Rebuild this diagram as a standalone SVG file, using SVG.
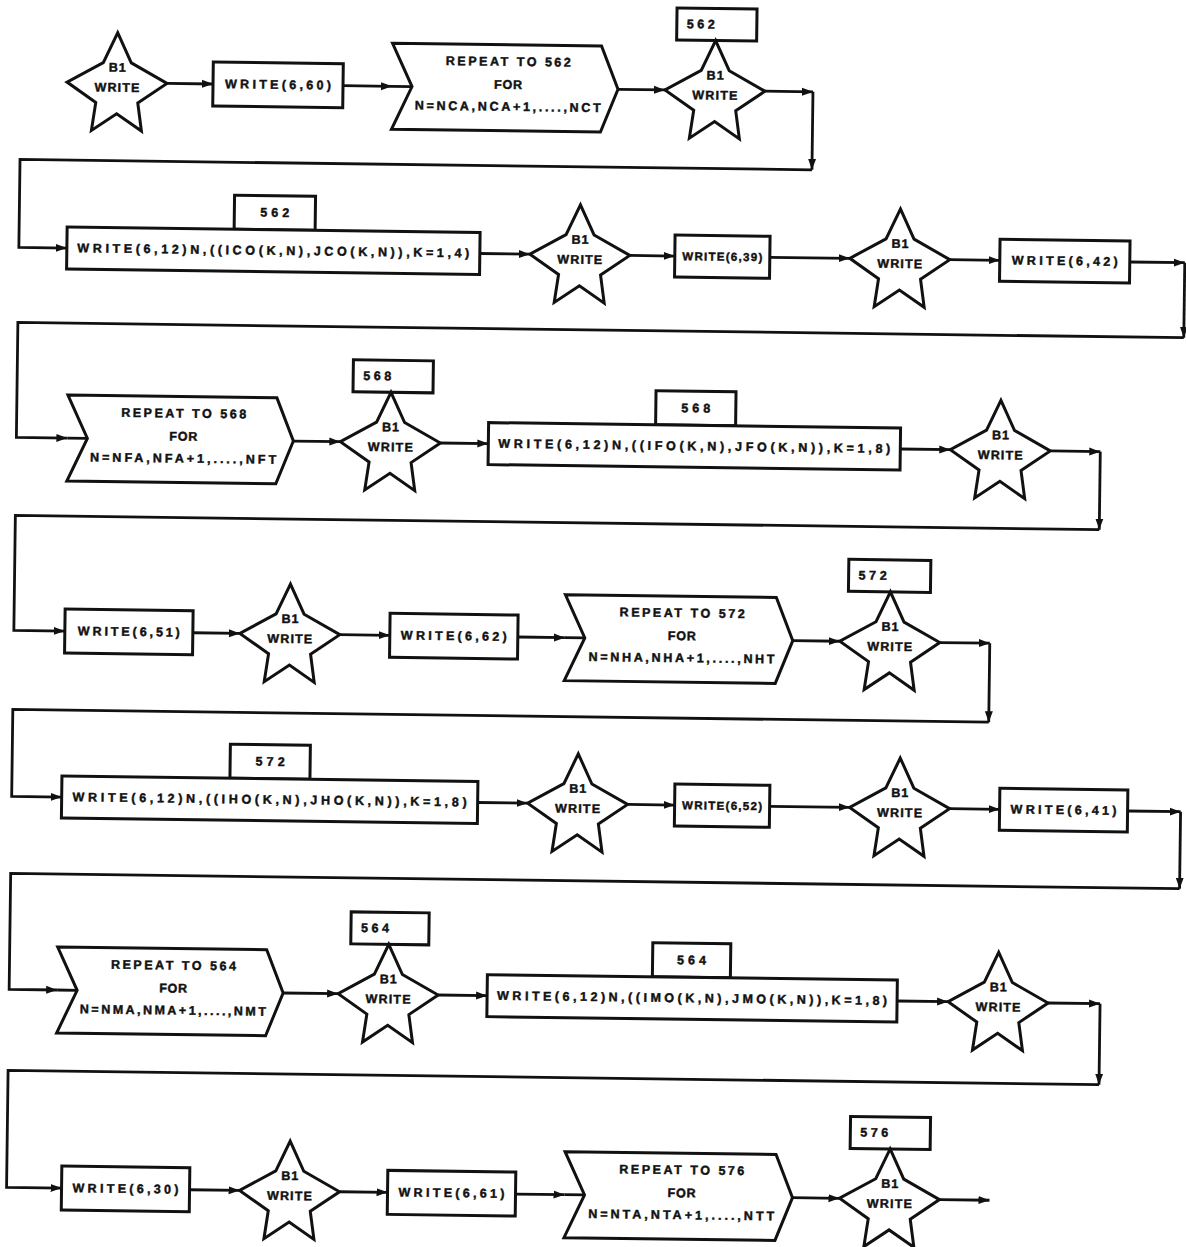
<svg xmlns="http://www.w3.org/2000/svg" width="1186" height="1247" viewBox="0 0 1186 1247">
  <defs>
    <style>
      .shape { fill: #fff; stroke: #111; stroke-width: 3; stroke-linejoin: miter; }
      .line { fill: none; stroke: #111; stroke-width: 2.8; }
      .arrow { marker-end: url(#head); }
      text { font-family: "Liberation Sans", Arial, sans-serif; font-weight: bold; font-size: 12.5px; fill: #111; stroke: #111; stroke-width: 0.45; }
      .c { text-anchor: middle; }
      .narrow { font-size: 11.5px; }
    </style>
    <marker id="head" markerUnits="userSpaceOnUse" markerWidth="12" markerHeight="10" refX="11" refY="5" orient="auto">
      <path d="M0,1 L11,5 L0,9 Z" fill="#111"/>
    </marker>
    <!-- five-pointed call symbol, centred on its horizontal tips -->
    <polygon id="star" points="0,-50 14,-20 50,0 21,20 25,48 0,31 -25,48 -21,20 -50,0 -14,-20"/>
  </defs>

  <rect x="0" y="0" width="1186" height="1247" fill="#fff"/>

  <g transform="rotate(0.75 593 623)">

    <!-- ============ connectors ============ -->
    <g id="connectors">
      <!-- row 1 -->
      <path class="line arrow" d="M160,89 L206,89"/>
      <path class="line arrow" d="M336,89 L385,89"/>
      <path class="line" d="M385,89 L405,89"/>
      <path class="line arrow" d="M611,89 L658,89"/>
      <path class="line arrow" d="M758,89 L806,89"/>
      <path class="line arrow" d="M806,89 L806,167"/>
      <path class="line arrow" d="M806,167 L14,167 L14,255 L62,255"/>
      <!-- row 2 -->
      <path class="line arrow" d="M475,255 L525,255"/>
      <path class="line arrow" d="M625,255 L670,255"/>
      <path class="line arrow" d="M765,255 L845,255"/>
      <path class="line arrow" d="M945,255 L995,255"/>
      <path class="line arrow" d="M1125,255 L1180,255"/>
      <path class="line arrow" d="M1180,255 L1180,330"/>
      <path class="line arrow" d="M1180,330 L14,330 L14,445 L65,445"/>
      <path class="line" d="M65,445 L85,445"/>
      <!-- row 3 -->
      <path class="line arrow" d="M291,445 L338,445"/>
      <path class="line arrow" d="M438,445 L486,445"/>
      <path class="line arrow" d="M898,445 L948,445"/>
      <path class="line arrow" d="M1048,445 L1098,445"/>
      <path class="line arrow" d="M1098,445 L1098,523"/>
      <path class="line arrow" d="M1098,523 L14,523 L14,638 L65,638"/>
      <!-- row 4 -->
      <path class="line arrow" d="M193,638 L240,638"/>
      <path class="line arrow" d="M340,638 L390,638"/>
      <path class="line arrow" d="M518,638 L565,638"/>
      <path class="line" d="M565,638 L585,638"/>
      <path class="line arrow" d="M793,638 L840,638"/>
      <path class="line arrow" d="M940,638 L990,638"/>
      <path class="line arrow" d="M990,638 L990,717"/>
      <path class="line arrow" d="M990,717 L14,717 L14,804 L64,804"/>
      <!-- row 5 -->
      <path class="line arrow" d="M480,804 L530,804"/>
      <path class="line arrow" d="M630,804 L677,804"/>
      <path class="line arrow" d="M772,804 L852,804"/>
      <path class="line arrow" d="M952,804 L1002,804"/>
      <path class="line arrow" d="M1130,804 L1183,804"/>
      <path class="line arrow" d="M1183,804 L1183,881"/>
      <path class="line arrow" d="M1183,881 L14,881 L14,997 L62,997"/>
      <path class="line" d="M62,997 L82,997"/>
      <!-- row 6 -->
      <path class="line arrow" d="M288,997 L343,997"/>
      <path class="line arrow" d="M443,997 L492,997"/>
      <path class="line arrow" d="M902,997 L953,997"/>
      <path class="line arrow" d="M1053,997 L1105,997"/>
      <path class="line arrow" d="M1105,997 L1105,1078"/>
      <path class="line arrow" d="M1105,1078 L14,1078 L14,1195 L69,1195"/>
      <!-- row 7 -->
      <path class="line arrow" d="M197,1195 L247,1195"/>
      <path class="line arrow" d="M347,1195 L395,1195"/>
      <path class="line arrow" d="M523,1195 L572,1195"/>
      <path class="line" d="M572,1195 L592,1195"/>
      <path class="line arrow" d="M800,1195 L847,1195"/>
      <path class="line arrow" d="M947,1195 L997,1195"/>
    </g>

    <!-- ============ row 1 ============ -->
    <g id="n1-call">
      <use href="#star" class="shape" x="110" y="89"/>
      <text class="c" x="110" y="78" textLength="17">B1</text>
      <text class="c" x="110" y="98" textLength="45">WRITE</text>
    </g>
    <g id="n1-write60">
      <rect class="shape" x="206" y="67" width="130" height="44"/>
      <text class="c" x="271" y="93" textLength="106">WRITE(6,60)</text>
    </g>
    <g id="n1-repeat562">
      <polygon class="shape" points="385,46 594,46 611,89 594,132 385,132 405,89"/>
      <text class="c" x="501" y="67" textLength="125">REPEAT TO 562</text>
      <text class="c" x="501" y="90" textLength="28">FOR</text>
      <text class="c" x="501" y="112" textLength="186">N=NCA,NCA+1,....,NCT</text>
    </g>
    <g id="n1-call562">
      <rect class="shape" x="669" y="7" width="80" height="32"/>
      <text x="679" y="27" textLength="28">562</text>
      <use href="#star" class="shape" x="708" y="89"/>
      <text class="c" x="708" y="78" textLength="17">B1</text>
      <text class="c" x="708" y="98" textLength="45">WRITE</text>
    </g>

    <!-- ============ row 2 ============ -->
    <g id="n2-write12-co">
      <rect class="shape" x="229" y="200" width="81" height="34"/>
      <text class="c" x="269.5" y="221" textLength="29">562</text>
      <rect class="shape" x="62" y="234" width="413" height="42"/>
      <text class="c" x="268.5" y="259" textLength="392">WRITE(6,12)N,((ICO(K,N),JCO(K,N)),K=1,4)</text>
    </g>
    <g id="n2-call-a">
      <use href="#star" class="shape" x="575" y="255"/>
      <text class="c" x="575" y="244" textLength="17">B1</text>
      <text class="c" x="575" y="264" textLength="45">WRITE</text>
    </g>
    <g id="n2-write39">
      <rect class="shape" x="670" y="234" width="95" height="42"/>
      <text class="c narrow" x="717.5" y="259" textLength="80">WRITE(6,39)</text>
    </g>
    <g id="n2-call-b">
      <use href="#star" class="shape" x="895" y="255"/>
      <text class="c" x="895" y="244" textLength="17">B1</text>
      <text class="c" x="895" y="264" textLength="45">WRITE</text>
    </g>
    <g id="n2-write42">
      <rect class="shape" x="995" y="234" width="130" height="42"/>
      <text class="c" x="1060" y="259" textLength="106">WRITE(6,42)</text>
    </g>

    <!-- ============ row 3 ============ -->
    <g id="n3-repeat568">
      <polygon class="shape" points="65,402 274,402 291,445 274,488 65,488 85,445"/>
      <text class="c" x="181" y="423" textLength="125">REPEAT TO 568</text>
      <text class="c" x="181" y="446" textLength="28">FOR</text>
      <text class="c" x="181" y="468" textLength="186">N=NFA,NFA+1,....,NFT</text>
    </g>
    <g id="n3-call568">
      <rect class="shape" x="350" y="363" width="80" height="32"/>
      <text x="360" y="383" textLength="28">568</text>
      <use href="#star" class="shape" x="388" y="445"/>
      <text class="c" x="388" y="434" textLength="17">B1</text>
      <text class="c" x="388" y="454" textLength="45">WRITE</text>
    </g>
    <g id="n3-write12-fo">
      <rect class="shape" x="653" y="390" width="80" height="34"/>
      <text class="c" x="693" y="411" textLength="29">568</text>
      <rect class="shape" x="486" y="424" width="412" height="42"/>
      <text class="c" x="692" y="449" textLength="392">WRITE(6,12)N,((IFO(K,N),JFO(K,N)),K=1,8)</text>
    </g>
    <g id="n3-call">
      <use href="#star" class="shape" x="998" y="445"/>
      <text class="c" x="998" y="434" textLength="17">B1</text>
      <text class="c" x="998" y="454" textLength="45">WRITE</text>
    </g>

    <!-- ============ row 4 ============ -->
    <g id="n4-write51">
      <rect class="shape" x="65" y="616" width="128" height="44"/>
      <text class="c" x="129" y="642" textLength="102">WRITE(6,51)</text>
    </g>
    <g id="n4-call">
      <use href="#star" class="shape" x="290" y="638"/>
      <text class="c" x="290" y="627" textLength="17">B1</text>
      <text class="c" x="290" y="647" textLength="45">WRITE</text>
    </g>
    <g id="n4-write62">
      <rect class="shape" x="390" y="616" width="128" height="44"/>
      <text class="c" x="454" y="642" textLength="106">WRITE(6,62)</text>
    </g>
    <g id="n4-repeat572">
      <polygon class="shape" points="565,595 776,595 793,638 776,681 565,681 585,638"/>
      <text class="c" x="682" y="616" textLength="125">REPEAT TO 572</text>
      <text class="c" x="682" y="639" textLength="28">FOR</text>
      <text class="c" x="682" y="661" textLength="186">N=NHA,NHA+1,....,NHT</text>
    </g>
    <g id="n4-call572">
      <rect class="shape" x="848" y="556" width="82" height="32"/>
      <text x="858" y="576" textLength="28">572</text>
      <use href="#star" class="shape" x="890" y="638"/>
      <text class="c" x="890" y="627" textLength="17">B1</text>
      <text class="c" x="890" y="647" textLength="45">WRITE</text>
    </g>

    <!-- ============ row 5 ============ -->
    <g id="n5-write12-ho">
      <rect class="shape" x="232" y="749" width="80" height="34"/>
      <text class="c" x="272" y="770" textLength="29">572</text>
      <rect class="shape" x="64" y="783" width="416" height="42"/>
      <text class="c" x="272" y="808" textLength="394">WRITE(6,12)N,((IHO(K,N),JHO(K,N)),K=1,8)</text>
    </g>
    <g id="n5-call-a">
      <use href="#star" class="shape" x="580" y="804"/>
      <text class="c" x="580" y="793" textLength="17">B1</text>
      <text class="c" x="580" y="813" textLength="45">WRITE</text>
    </g>
    <g id="n5-write52">
      <rect class="shape" x="677" y="783" width="95" height="42"/>
      <text class="c narrow" x="724.5" y="808" textLength="80">WRITE(6,52)</text>
    </g>
    <g id="n5-call-b">
      <use href="#star" class="shape" x="902" y="804"/>
      <text class="c" x="902" y="793" textLength="17">B1</text>
      <text class="c" x="902" y="813" textLength="45">WRITE</text>
    </g>
    <g id="n5-write41">
      <rect class="shape" x="1002" y="783" width="128" height="42"/>
      <text class="c" x="1066" y="808" textLength="106">WRITE(6,41)</text>
    </g>

    <!-- ============ row 6 ============ -->
    <g id="n6-repeat564">
      <polygon class="shape" points="62,954 271,954 288,997 271,1040 62,1040 82,997"/>
      <text class="c" x="178" y="975" textLength="125">REPEAT TO 564</text>
      <text class="c" x="178" y="998" textLength="28">FOR</text>
      <text class="c" x="178" y="1020" textLength="186">N=NMA,NMA+1,....,NMT</text>
    </g>
    <g id="n6-call564">
      <rect class="shape" x="355" y="915" width="78" height="32"/>
      <text x="365" y="935" textLength="28">564</text>
      <use href="#star" class="shape" x="393" y="997"/>
      <text class="c" x="393" y="986" textLength="17">B1</text>
      <text class="c" x="393" y="1006" textLength="45">WRITE</text>
    </g>
    <g id="n6-write12-mo">
      <rect class="shape" x="657" y="942" width="78" height="34"/>
      <text class="c" x="696" y="963" textLength="29">564</text>
      <rect class="shape" x="492" y="976" width="410" height="42"/>
      <text class="c" x="697" y="1001" textLength="390">WRITE(6,12)N,((IMO(K,N),JMO(K,N)),K=1,8)</text>
    </g>
    <g id="n6-call">
      <use href="#star" class="shape" x="1003" y="997"/>
      <text class="c" x="1003" y="986" textLength="17">B1</text>
      <text class="c" x="1003" y="1006" textLength="45">WRITE</text>
    </g>

    <!-- ============ row 7 ============ -->
    <g id="n7-write30">
      <rect class="shape" x="69" y="1173" width="128" height="44"/>
      <text class="c" x="133" y="1199" textLength="106">WRITE(6,30)</text>
    </g>
    <g id="n7-call">
      <use href="#star" class="shape" x="297" y="1195"/>
      <text class="c" x="297" y="1184" textLength="17">B1</text>
      <text class="c" x="297" y="1204" textLength="45">WRITE</text>
    </g>
    <g id="n7-write61">
      <rect class="shape" x="395" y="1173" width="128" height="44"/>
      <text class="c" x="459" y="1199" textLength="106">WRITE(6,61)</text>
    </g>
    <g id="n7-repeat576">
      <polygon class="shape" points="572,1152 783,1152 800,1195 783,1238 572,1238 592,1195"/>
      <text class="c" x="689" y="1173" textLength="125">REPEAT TO 576</text>
      <text class="c" x="689" y="1196" textLength="28">FOR</text>
      <text class="c" x="689" y="1218" textLength="186">N=NTA,NTA+1,....,NTT</text>
    </g>
    <g id="n7-call576">
      <rect class="shape" x="857" y="1113" width="80" height="32"/>
      <text x="867" y="1133" textLength="28">576</text>
      <use href="#star" class="shape" x="897" y="1195"/>
      <text class="c" x="897" y="1184" textLength="17">B1</text>
      <text class="c" x="897" y="1204" textLength="45">WRITE</text>
    </g>

  </g>
</svg>
